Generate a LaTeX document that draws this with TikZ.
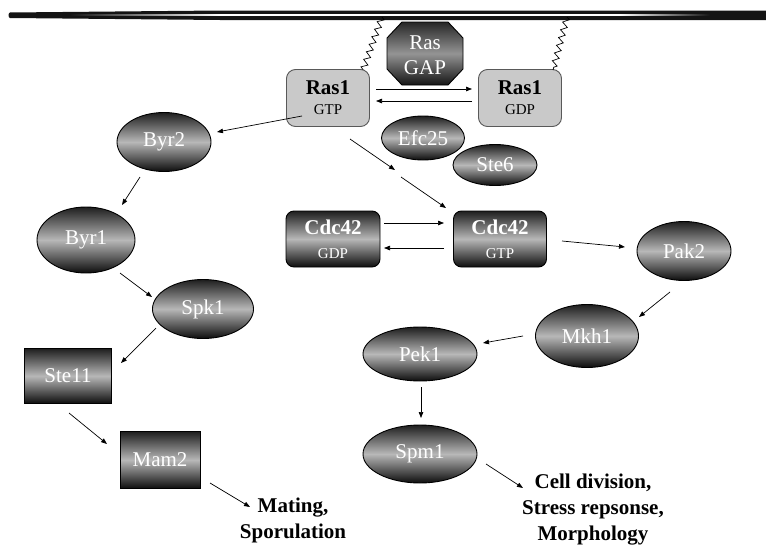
\documentclass[tikz,border=0pt]{standalone}
\usepackage{fontspec}
\setmainfont{Liberation Serif}
\usetikzlibrary{arrows.meta,shapes.geometric,decorations.pathmorphing,calc}

\begin{document}
\begin{tikzpicture}[x=1pt,y=-1pt,
  bigfont/.style={font=\fontsize{21}{25}\selectfont},
  tube/.style={draw=black, line width=0.9pt, top color=black!88, bottom color=black!95,
    middle color=black!28, text=white, inner sep=0pt, bigfont},
  kinase/.style={tube, ellipse},
  mapbox/.style={tube, rectangle},
  gtpase/.style={tube, rectangle, rounded corners=8pt, align=center,
    font=\fontsize{21}{24}\selectfont},
  rasbox/.style={draw=black!65, line width=0.9pt, fill=black!21, rectangle,
    rounded corners=9pt, minimum width=83pt, minimum height=57pt, align=center,
    inner sep=0pt, font=\fontsize{21}{20}\selectfont},
  outcome/.style={font=\fontsize{21}{26}\selectfont\bfseries, align=center, inner sep=0pt},
  act/.style={-{Triangle[length=6pt,width=4.5pt]}, line width=0.7pt},
  anchorwave/.style={decorate, decoration={zigzag, segment length=8pt, amplitude=3pt}, line width=0.7pt}
]
\useasboundingbox (0,0) rectangle (766,549);

% plasma membrane: a dark bilayer with a thin pale core
\fill[black!92] (10,12.5) .. controls (8,13) and (8,17.5) .. (10,18)
  -- (220,20) -- (766,20) -- (766,10.5) -- (220,10.5) -- cycle;
\shade[left color=black!92, right color=white] (70,14.2) rectangle (220,15.6);
\fill[white] (220,14.2) rectangle (620,15.6);
\shade[left color=white, right color=black!92] (620,14.2) rectangle (710,15.6);

% Ras cycle
\node[rasbox] (r1t) at (328,98)
  {\bfseries Ras1\\{\fontsize{15}{16}\selectfont GTP}};
\node[rasbox] (r1d) at (520,98)
  {\bfseries Ras1\\{\fontsize{15}{16}\selectfont GDP}};

% octagonal Ras GAP
\path[draw=black, line width=0.9pt, top color=black!85, bottom color=black!92, middle color=black!42]
  (402,22) -- (448,22) -- (463,38) -- (463,69) -- (448,85) -- (402,85)
  -- (387,69) -- (387,38) -- cycle;
\node[text=white, align=center, inner sep=0pt, font=\fontsize{21}{25}\selectfont] (gap) at (425,55) {Ras\\GAP};

\node[kinase, minimum width=83pt, minimum height=44pt] (efc) at (423,138) {Efc25};
\node[kinase, minimum width=84pt, minimum height=41pt] (ste6) at (495,165) {Ste6};

% lipid anchors tying Ras1 to the membrane
\coordinate (lipA) at (382,17);
\coordinate (lipB) at (567,17);
\draw[anchorwave] (lipA) -- ($(r1t)+(35,-28)$);
\draw[anchorwave] (lipB) -- ($(r1d)+(33,-28)$);

\draw[act] ($(r1t)+(48,-9)$) -- ($(r1d)+(-48,-9)$);
\draw[act] ($(r1d)+(-48,3)$) -- ($(r1t)+(48,3)$);

% mating / sporulation MAPK branch
\node[kinase, minimum width=94pt, minimum height=59pt] (byr2) at (164,142) {Byr2};
\node[kinase, minimum width=98pt, minimum height=66pt] (byr1) at (86,240) {Byr1};
\node[kinase, minimum width=101pt, minimum height=59pt] (spk1) at (203,309) {Spk1};
\node[mapbox, minimum width=87pt, minimum height=55pt] (ste11) at (68,376) {Ste11};
\node[mapbox, minimum width=80pt, minimum height=57pt] (mam2) at (160,460) {Mam2};
\node[outcome] (mating) at (293,520) {Mating,\\Sporulation};

\draw[act] ($(r1t)+(-26,18)$) -- ($(byr2)+(53,-10)$);
\draw[act] ($(byr2)+(-24,35)$) -- ($(byr1)+(36,-35)$);
\draw[act] ($(byr1)+(34,33)$) -- ($(spk1)+(-51,-12)$);
\draw[act] ($(spk1)+(-47,19)$) -- ($(ste11)+(53,-13)$);
\draw[act] ($(ste11)+(1,37)$) -- ($(mam2)+(-53,-16)$);
\draw[act] ($(mam2)+(50,23)$) -- ($(mating)+(-43,-13)$);

% Cdc42 cycle and morphology branch
\node[gtpase, minimum width=94pt, minimum height=56pt] (cdd) at (333,239)
  {\bfseries Cdc42\\{\fontsize{15}{16}\selectfont GDP}};
\node[gtpase, minimum width=93pt, minimum height=56pt] (cdt) at (500,239)
  {\bfseries Cdc42\\{\fontsize{15}{16}\selectfont GTP}};
\node[kinase, minimum width=94pt, minimum height=59pt] (pak2) at (684,251) {Pak2};
\node[kinase, minimum width=103pt, minimum height=63pt] (mkh1) at (587,336) {Mkh1};
\node[kinase, minimum width=114pt, minimum height=54pt] (pek1) at (420,354) {Pek1};
\node[kinase, minimum width=114pt, minimum height=58pt] (spm1) at (420,454) {Spm1};
\node[outcome] (cell) at (593,510) {Cell division,\\Stress repsonse,\\Morphology};

\coordinate (relayEnd) at (395,170);
\coordinate (relayStart) at (401,177);
\draw[act] ($(r1t)+(22,41)$) -- (relayEnd);
\draw[act] (relayStart) -- ($(cdt)+(-54,-31)$);

\draw[act] ($(cdd)+(51,-16)$) -- ($(cdt)+(-56,-16)$);
\draw[act] ($(cdt)+(-56,9)$) -- ($(cdd)+(51,9)$);
\draw[act] ($(cdt)+(62,2)$) -- ($(pak2)+(-59,-4)$);
\draw[act] ($(pak2)+(-14,41)$) -- ($(mkh1)+(52,-19)$);
\draw[act] ($(mkh1)+(-64,0)$) -- ($(pek1)+(63,-11)$);
\draw[act] ($(pek1)+(1,33)$) -- ($(spm1)+(1,-36)$);
\draw[act] ($(spm1)+(66,10)$) -- ($(cell)+(-70,-22)$);
\end{tikzpicture}
\end{document}
